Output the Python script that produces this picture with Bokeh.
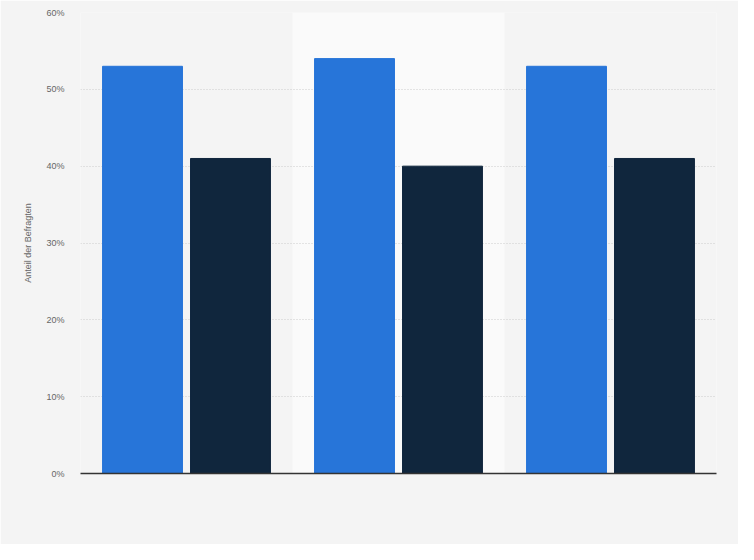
from bokeh.plotting import figure
from bokeh.models import ColumnDataSource, BoxAnnotation, FixedTicker, Range1d, CustomJSTickFormatter
from bokeh.embed import file_html
from bokeh.resources import INLINE

groups = ["A", "B", "C"]
series1 = [53, 54, 53]
series2 = [41, 40, 41]
y_ticks = [0, 10, 20, 30, 40, 50, 60]
y_label = "Anteil der Befragten"

color1 = "#2775d9"
color2 = "#10263d"

centers = [i + 0.5 for i in range(len(groups))]
offset = 0.2075
bw = 0.377

src1 = ColumnDataSource(dict(x=[c - offset for c in centers], top=series1))
src2 = ColumnDataSource(dict(x=[c + offset for c in centers], top=series2))

p = figure(width=738, height=544, output_backend="svg", toolbar_location=None,
           x_range=Range1d(0, len(groups)), y_range=Range1d(0, 60),
           min_border_left=80, min_border_right=22, min_border_top=12, min_border_bottom=71)
p.background_fill_color = "#f4f4f4"
p.border_fill_color = "#f4f4f4"
p.outline_line_color = None

band = BoxAnnotation(left=1, right=2, fill_color="#fafafa", fill_alpha=1.0, line_color=None, level="underlay")
p.center = [band] + list(p.center)

p.vbar(x="x", top="top", width=bw, bottom=0, source=src1, fill_color=color1, line_color=color1)
p.vbar(x="x", top="top", width=bw, bottom=0, source=src2, fill_color=color2, line_color=color2)

p.xgrid.grid_line_color = None
p.ygrid.grid_line_color = "#cccccc"
p.ygrid.grid_line_dash = "1 2"
p.ygrid.ticker = FixedTicker(ticks=y_ticks)

p.yaxis.ticker = FixedTicker(ticks=y_ticks)
p.yaxis.formatter = CustomJSTickFormatter(code="return tick + '%';")
p.yaxis.axis_line_color = None
p.yaxis.major_tick_line_color = None
p.yaxis.minor_tick_line_color = None
p.yaxis.major_tick_out = 0
p.yaxis.major_label_standoff = 16
p.yaxis.major_label_text_font = "Liberation Sans"
p.yaxis.major_label_text_font_size = "9px"
p.yaxis.major_label_text_color = "#666666"
p.yaxis.axis_label = y_label
p.yaxis.axis_label_text_font = "Liberation Sans"
p.yaxis.axis_label_text_font_size = "9px"
p.yaxis.axis_label_text_font_style = "normal"
p.yaxis.axis_label_text_color = "#666666"
p.yaxis.axis_label_standoff = 10

p.xaxis.axis_line_color = "#333333"
p.xaxis.axis_line_width = 1.5
p.xaxis.major_tick_line_color = None
p.xaxis.minor_tick_line_color = None
p.xaxis.major_label_text_font_size = "0px"
p.xaxis.major_label_text_color = None

open("out.html", "w").write(file_html(p, INLINE))
